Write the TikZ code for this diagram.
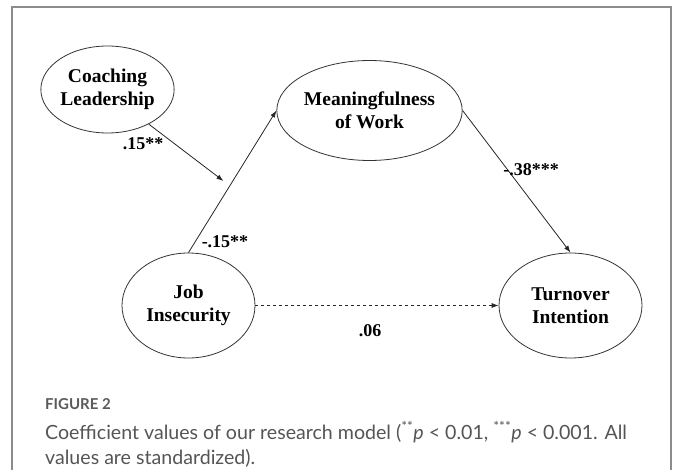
\documentclass[tikz,border=0pt]{standalone}
\usepackage{fontspec}
\setmainfont{Liberation Serif}
\newfontfamily\capfont{Lato}
\usetikzlibrary{shapes.geometric,arrows.meta}
\definecolor{framegray}{HTML}{8C8C8C}
\definecolor{capgray}{HTML}{555555}
\definecolor{figgray}{HTML}{5A5A5A}
\begin{document}
\begin{tikzpicture}[x=1pt,y=-1pt,
  var/.style={draw=black!80,line width=0.8pt,ellipse,inner sep=0pt,align=center,
    font=\fontsize{19.5}{23.5}\selectfont\bfseries},
  coef/.style={font=\fontsize{18}{20}\selectfont\bfseries,inner sep=0pt},
  link/.style={draw=black!85,line width=0.8pt,-{Latex[length=7pt,width=5pt]}},
  dlink/.style={link,dashed},
  captxt/.style={inner sep=0pt,anchor=base west,text=capgray,font=\capfont\fontsize{19.6}{26}\selectfont},
]
\useasboundingbox (0,0) rectangle (680,470);
\draw[framegray,line width=1.5pt] (12,475) -- (12,7) -- (671,7) -- (671,475);

\node[var,minimum width=121pt,minimum height=87pt] (CL) at (107.5,89.5) {Coaching\\Leadership};
\node[var,minimum width=133pt,minimum height=100pt] (MW) at (369.5,110.5) {Meaningfulness\\of Work};
\node[var,minimum width=133pt,minimum height=105pt] (JI) at (188.5,305.5) {Job\\Insecurity};
\node[var,minimum width=143pt,minimum height=105pt] (TI) at (570.5,305.5) {Turnover\\Intention};

\draw[link] (JI.north) -- coordinate[pos=0.47] (mod) (MW.west);
\draw[link,shorten >=8pt] (CL.-40) -- (mod);
\draw[link] (MW.east) -- (TI.north);
\draw[dlink] (JI.east) -- (TI.west);

\node[coef] (c1) at (143,144) {.15**};
\node[coef] (c2) at (225,242) {-.15**};
\node[coef] (c3) at (531,170) {-.38***};
\node[coef] (c4) at (370,331) {.06};

\node[inner sep=0pt,anchor=base west,text=figgray,font=\capfont\bfseries\fontsize{15}{17}\selectfont] (fig) at (45,409) {FIGURE 2};
\node[captxt] (cap1) at (45,439)
  {Coefficient values of our research model (\textsuperscript{**}\textit{p} < 0.01, \textsuperscript{***}\textit{p} < 0.001. All};
\node[captxt] (cap2) at (45,464) {values are standardized).};
\end{tikzpicture}
\end{document}
